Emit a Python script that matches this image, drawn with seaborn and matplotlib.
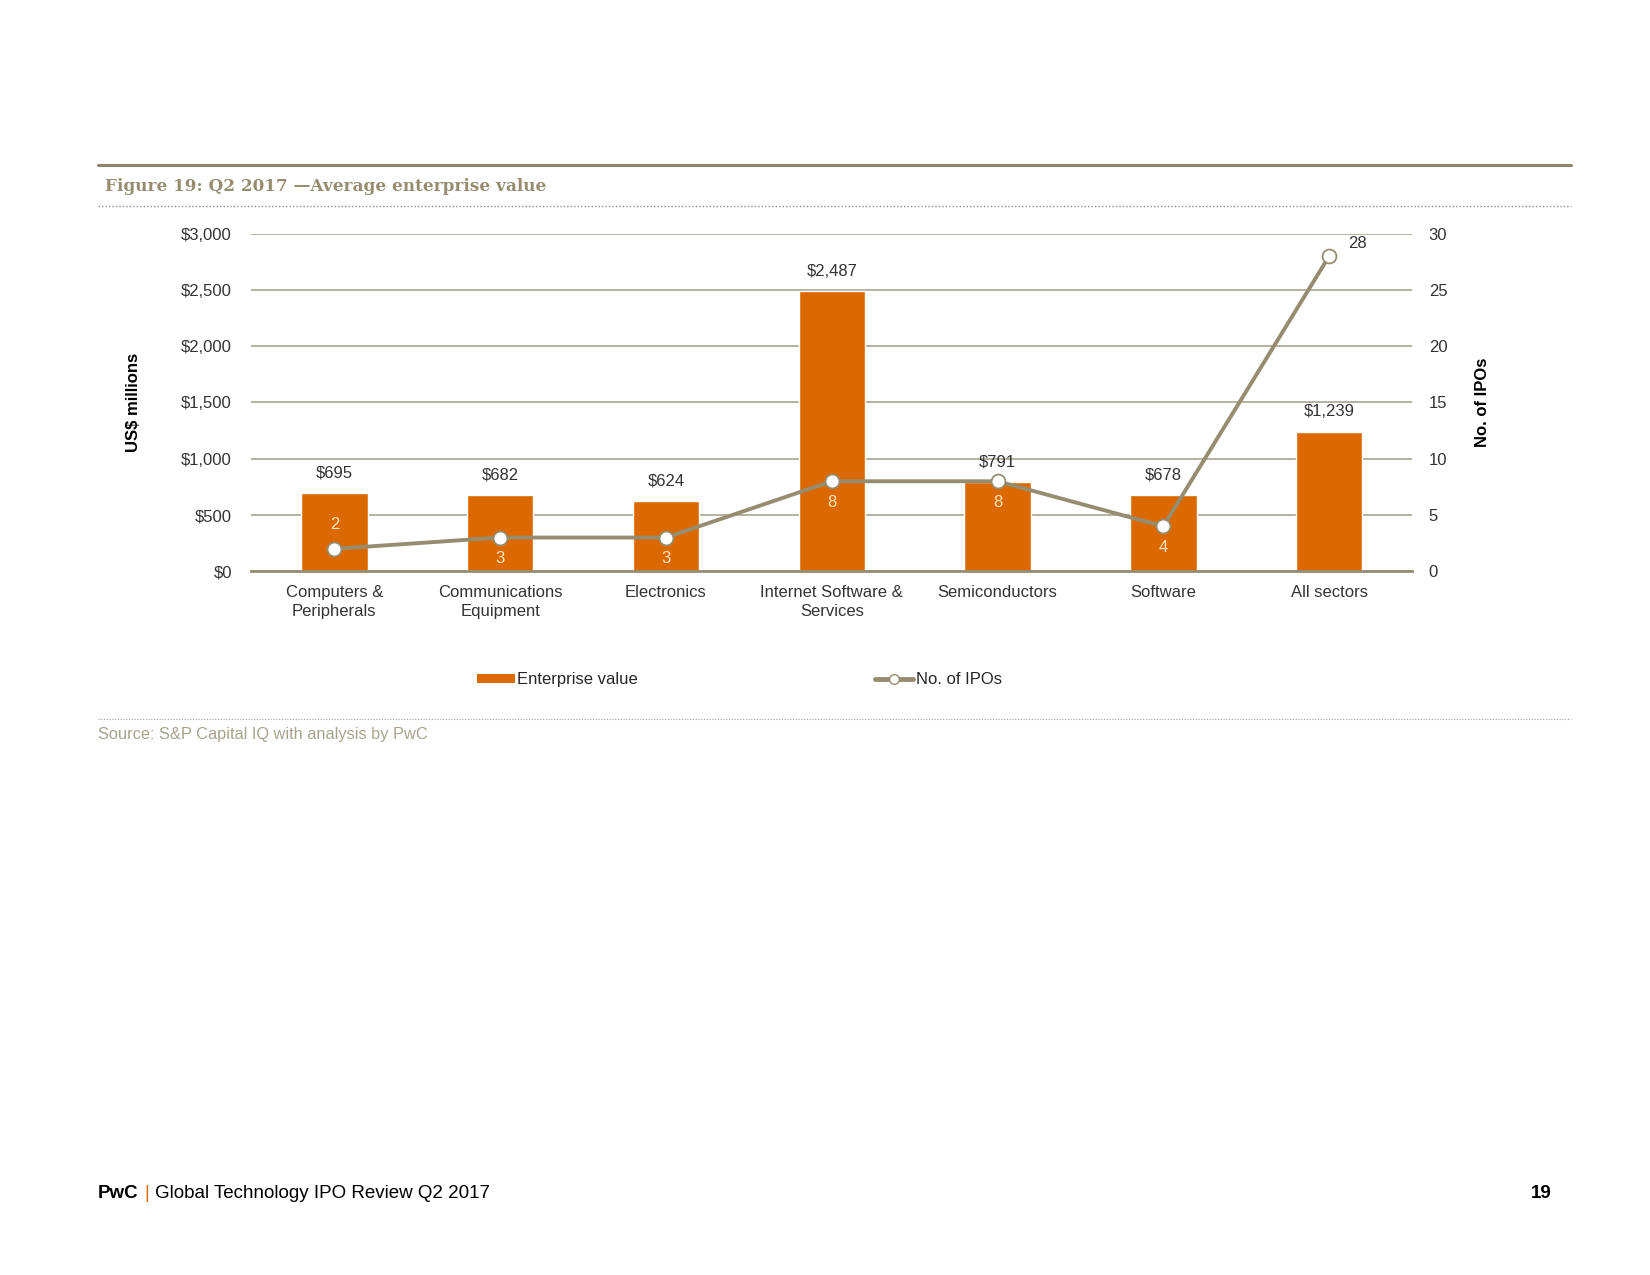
# Q2 2017 average enterprise value by sector

import numpy as np
import pandas as pd
import matplotlib
matplotlib.use("Agg")
import matplotlib.pyplot as plt
import seaborn as sns
from matplotlib.patches import Patch
from matplotlib.lines import Line2D

# DATA

sectors = ["Computers &\nPeripherals", "Communications\nEquipment", "Electronics",
           "Internet Software &\nServices", "Semiconductors", "Software", "All sectors"]
enterprise_value = [695, 682, 624, 2487, 791, 678, 1239]
no_of_ipos = [2, 3, 3, 8, 8, 4, 28]
ev_labels = ["$695", "$682", "$624", "$2,487", "$791", "$678", "$1,239"]

df = pd.DataFrame({"sector": sectors, "ev": enterprise_value, "ipos": no_of_ipos})

# COLOURS

ORANGE = "#DC6900"
KHAKI = "#968D70"
GRID = "#A39C84"
TXT = "#333333"
FS = 12

sns.set_theme(style="white")
plt.rcParams["font.family"] = ["Liberation Sans", "DejaVu Sans"]

fig = plt.figure(figsize=(16.5, 12.75), dpi=100)
ax = fig.add_axes([0.1524, 0.5519, 0.7034, 0.2649])

sns.barplot(data=df, x="sector", y="ev", color=ORANGE, saturation=1,
            width=0.40, ax=ax, zorder=2)

ax.set_ylim(0, 3000)
ax.set_xlim(-0.5, len(sectors) - 0.5)
ax.set_yticks(np.arange(0, 3001, 500))
ax.set_yticklabels([f"${v:,}" for v in range(0, 3001, 500)], fontsize=FS, color=TXT)
ax.yaxis.grid(True, color=GRID, lw=1.1, zorder=0)
ax.set_axisbelow(True)
for s in ["top", "right", "left"]:
    ax.spines[s].set_visible(False)
ax.spines["bottom"].set_color(KHAKI)
ax.spines["bottom"].set_linewidth(2)
ax.tick_params(axis="y", length=0, pad=14)
ax.tick_params(axis="x", which="major", length=0, pad=10, labelsize=FS, labelcolor=TXT)
ax.set_xticks(range(len(sectors)))
ax.set_xticklabels(sectors, linespacing=1.3)
ax.set_xticks(np.arange(-0.5, len(sectors), 1), minor=True)
ax.tick_params(axis="x", which="minor", length=5, width=1.5, color=KHAKI, direction="out")
ax.set_xlabel("")
ax.set_ylabel("US$ millions", fontsize=FS, fontweight="bold", color="black", labelpad=29)

for i, (v, lab) in enumerate(zip(enterprise_value, ev_labels)):
    ax.annotate(lab, (i, v), xytext=(0, 9), textcoords="offset points",
                ha="center", va="bottom", fontsize=FS, color=TXT)

# secondary axis: number of IPOs
ax2 = ax.twinx()
ax2.plot(range(len(sectors)), no_of_ipos, color=KHAKI, lw=2.8, marker="o",
         markersize=10, markerfacecolor="white", markeredgecolor=KHAKI,
         markeredgewidth=1.3, zorder=3)
ax2.set_ylim(0, 30)
ax2.set_yticks(np.arange(0, 31, 5))
ax2.set_yticklabels([str(v) for v in range(0, 31, 5)], fontsize=FS, color=TXT)
ax2.tick_params(axis="y", length=0, pad=12)
for s in ["top", "right", "left", "bottom"]:
    ax2.spines[s].set_visible(False)
ax2.set_ylabel("No. of IPOs", fontsize=FS, fontweight="bold", color="black", labelpad=20)

for i, n in enumerate(no_of_ipos):
    if i == len(no_of_ipos) - 1:
        ax2.annotate(str(n), (i, n), xytext=(14, 4), textcoords="offset points",
                     ha="left", va="bottom", fontsize=FS, color=TXT)
    elif i == 0:
        ax2.annotate(str(n), (i, n), xytext=(0, 12), textcoords="offset points",
                     ha="center", va="bottom", fontsize=FS, color="#FFE3C2")
    else:
        ax2.annotate(str(n), (i, n), xytext=(0, -10), textcoords="offset points",
                     ha="center", va="top", fontsize=FS, color="#FFE3C2")

# LEGEND

handles = [Patch(facecolor=ORANGE, edgecolor="none", label="Enterprise value"),
           Line2D([], [], color=KHAKI, lw=3.5, marker="o", markersize=7,
                  markerfacecolor="white", markeredgecolor=KHAKI, label="No. of IPOs")]
fig.legend(handles=handles, loc="center", bbox_to_anchor=(0.448, 0.4667), ncol=2,
           frameon=False, fontsize=FS, handlelength=2.3, handletextpad=0.15,
           columnspacing=14.2, handleheight=0.5)

# PAGE FRAME

fig.add_artist(Line2D([0.0594, 0.9521], [0.8706, 0.8706], color="#8C856B", lw=2.2))
fig.add_artist(Line2D([0.0594, 0.9521], [0.8384, 0.8384], color="#8C8C8C", lw=1,
                      ls=(0, (1, 1.5))))
fig.add_artist(Line2D([0.0594, 0.9521], [0.4361, 0.4361], color="#9A9A9A", lw=0.8,
                      ls=(0, (1, 1.5))))
fig.text(0.0636, 0.8541, "Figure 19: Q2 2017 \u2014Average enterprise value",
         family=["DejaVu Serif"], fontweight="bold",
         fontsize=12.2, color=KHAKI, va="center")
fig.text(0.0594, 0.4243, "Source: S&P Capital IQ with analysis by PwC",
         fontsize=11.8, color="#A9A28B", va="center")

fig.text(0.0594, 0.0639, "PwC", fontsize=13.5, fontweight="bold", color="black", va="center")
fig.text(0.0874, 0.0639, "|", fontsize=13.5, color=ORANGE, va="center")
fig.text(0.0938, 0.0639, "Global Technology IPO Review Q2 2017", fontsize=13.5,
         color="black", va="center")
fig.text(0.9406, 0.0639, "19", fontsize=13.5, fontweight="bold", color="black",
         va="center", ha="right")

fig.savefig("out.png", dpi=100)
